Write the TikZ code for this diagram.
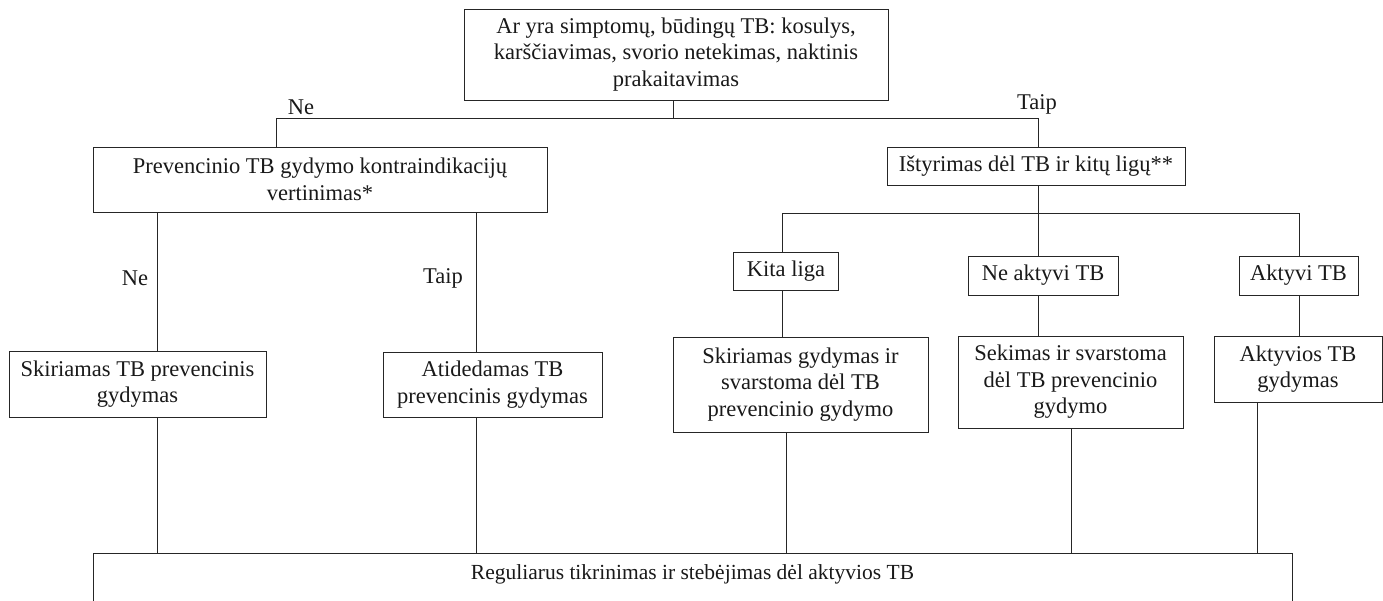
\documentclass[tikz,border=0pt]{standalone}
\usepackage{fontspec}
\setmainfont{Liberation Serif}
\begin{document}
\begin{tikzpicture}[x=1pt,y=-1pt,
  box/.style={draw=black!85, line width=1pt, align=center, inner sep=2pt,
              font=\fontsize{22.5}{26.5}\selectfont, text=black!90},
  link/.style={draw=black!85, line width=1pt},
  lbl/.style={font=\fontsize{22.5}{26.5}\selectfont, text=black!90, inner sep=0pt}]
\useasboundingbox (0,0) rectangle (1383,600);
\clip (0,0) rectangle (1383,600);

% --- boxes ---
\node[box, minimum width=424pt, minimum height=91pt] (q) at (676,54.5)
  {Ar yra simptomų, būdingų TB: kosulys,\\karščiavimas, svorio netekimas, naktinis\\prakaitavimas};
\node[box, minimum width=454pt, minimum height=65pt] (prev) at (320,179.5)
  {Prevencinio TB gydymo kontraindikacijų\\vertinimas*};
\node[box, minimum width=298pt, minimum height=38pt] (ist) at (1036,166)
  {Ištyrimas dėl TB ir kitų ligų**};
\node[box, minimum width=105pt, minimum height=38pt] (kita) at (786,271)
  {Kita liga};
\node[box, minimum width=150pt, minimum height=39pt] (neakt) at (1043,275.5)
  {Ne aktyvi TB};
\node[box, minimum width=119pt, minimum height=39pt] (akt) at (1298.5,275.5)
  {Aktyvi TB};
\node[box, minimum width=257pt, minimum height=66pt] (skTB) at (137.5,384)
  {Skiriamas TB prevencinis\\gydymas};
\node[box, minimum width=219pt, minimum height=65pt] (atid) at (492.5,384.5)
  {Atidedamas TB\\prevencinis gydymas};
\node[box, minimum width=255pt, minimum height=95pt] (skg) at (800.5,384.5)
  {Skiriamas gydymas ir\\svarstoma dėl TB\\prevencinio gydymo};
\node[box, minimum width=225pt, minimum height=92pt] (sek) at (1070.5,382)
  {Sekimas ir svarstoma\\dėl TB prevencinio\\gydymo};
\node[box, minimum width=168pt, minimum height=66pt] (aktg) at (1298,369)
  {Aktyvios TB\\gydymas};
\node[box, anchor=north, minimum width=1199pt, inner ysep=0pt,
      font=\fontsize{21.5}{26}\selectfont,
      text height=26pt, text depth=40pt] (bot) at (692.5,553)
  {Reguliarus tikrinimas ir stebėjimas dėl aktyvios TB};

% --- branch labels ---
\node[lbl] (ne1) at (301,107) {Ne};
\node[lbl] (taip1) at (1037,104) {Taip};
\node[lbl] (ne2) at (135,278) {Ne};
\node[lbl] (taip2) at (443,278) {Taip};

% --- junction points and columns ---
\coordinate (jtop) at (673,118);
\coordinate (jl) at (276,118);
\coordinate (jr) at (1038,118);
\coordinate (jb) at (1038,213);
\coordinate (jk) at (782,213);
\coordinate (ja) at (1299,213);
\coordinate (c1) at (157,0);
\coordinate (c2) at (476,0);
\coordinate (c3) at (786,0);
\coordinate (c4) at (1071,0);
\coordinate (c5) at (1257,0);

% --- connectors ---
\draw[link] (q.south -| jtop) -- (jtop);
\draw[link] (jl) -- (jr);
\draw[link] (jl) -- (jl |- prev.north);
\draw[link] (jr) -- (jr |- ist.north);

\draw[link] (ist.south -| jb) -- (jb);
\draw[link] (jk) -- (ja);
\draw[link] (jk) -- (jk |- kita.north);
\draw[link] (jb) -- (jb |- neakt.north);
\draw[link] (ja) -- (ja |- akt.north);
\draw[link] (kita.south -| jk) -- (skg.north -| jk);
\draw[link] (neakt.south -| jb) -- (sek.north -| jb);
\draw[link] (akt.south -| ja) -- (aktg.north -| ja);

\draw[link] (prev.south -| c1) -- (skTB.north -| c1);
\draw[link] (prev.south -| c2) -- (atid.north -| c2);

\draw[link] (skTB.south -| c1) -- (bot.north -| c1);
\draw[link] (atid.south -| c2) -- (bot.north -| c2);
\draw[link] (skg.south -| c3) -- (bot.north -| c3);
\draw[link] (sek.south -| c4) -- (bot.north -| c4);
\draw[link] (aktg.south -| c5) -- (bot.north -| c5);
\end{tikzpicture}
\end{document}
